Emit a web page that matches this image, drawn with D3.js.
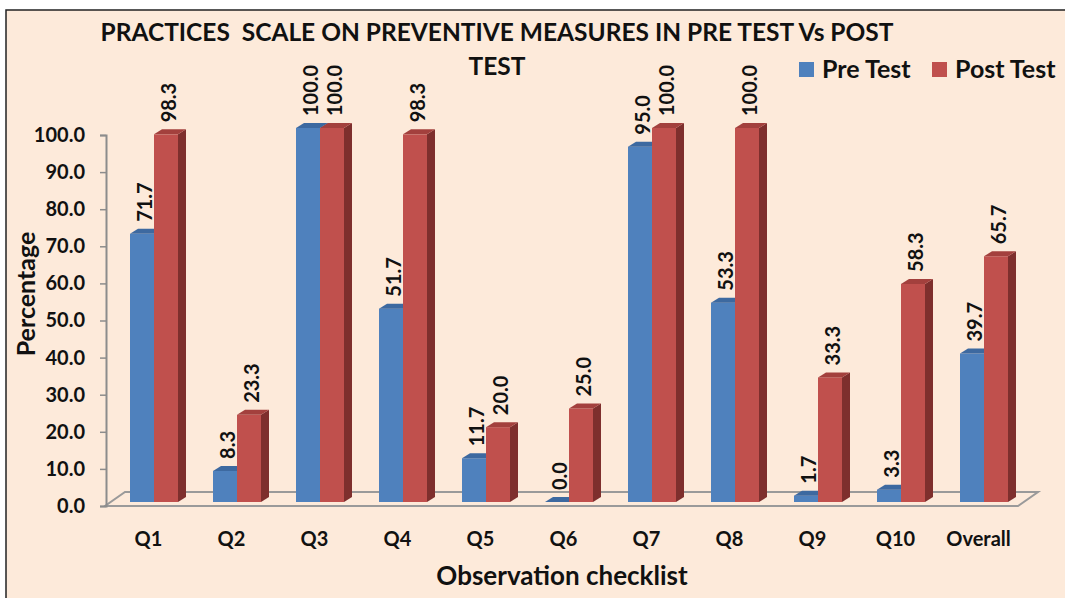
<!DOCTYPE html>
<html lang="en">
<head>
    <meta charset="UTF-8">
    <title>Practices Scale on Preventive Measures</title>
    <script src="https://d3js.org/d3.v7.min.js"></script>
    <style>
        body { margin: 0; background: #fff; }
        text { font-family: Lato, "Open Sans", sans-serif; font-weight: bold; fill: #111; }
    </style>
</head>
<body>
    <div id="chart"></div>
    <script>
        const categories = ["Q1", "Q2", "Q3", "Q4", "Q5", "Q6", "Q7", "Q8", "Q9", "Q10", "Overall"];
        const preTest = [71.7, 8.3, 100.0, 51.7, 11.7, 0.0, 95.0, 53.3, 1.7, 3.3, 39.7];
        const postTest = [98.3, 23.3, 100.0, 98.3, 20.0, 25.0, 100.0, 100.0, 33.3, 58.3, 65.7];
        const yTicks = [0, 10, 20, 30, 40, 50, 60, 70, 80, 90, 100];
        const seriesNames = ["Pre Test", "Post Test"];

        const W = 1065, H = 598;
        const svg = d3.select("#chart").append("svg")
            .attr("width", W).attr("height", H);

        // chart area background + border
        svg.append("rect").attr("x", 6).attr("y", 10).attr("width", W).attr("height", H)
            .attr("fill", "#fdeada").attr("stroke", "#222").attr("stroke-width", 1.5);

        const x = d3.scaleBand().domain(categories).range([105, 1018]);
        const y = d3.scaleLinear().domain([0, 100]).range([506, 135]);
        const yBar = d3.scaleLinear().domain([0, 100]).range([502, 128]);

        const depth = { dx: 20, dy: -14 };   // floor depth
        const bd = { dx: 8, dy: -5 };        // bar depth
        const barW = 24;

        // floor
        const f0 = x.range()[0], f1 = x.range()[1], fy = y(0);
        svg.append("path")
            .attr("d", `M${f0},${fy} L${f1},${fy} L${f1 + depth.dx},${fy + depth.dy} L${f0 + depth.dx},${fy + depth.dy} Z`)
            .attr("fill", "none").attr("stroke", "#9a9a9a").attr("stroke-width", 2);

        // y axis
        const yAxis = svg.append("g")
            .attr("transform", "translate(106,0)")
            .call(d3.axisLeft(y).tickValues(yTicks).tickFormat(d3.format(".1f")).tickSize(6).tickPadding(15));
        yAxis.select(".domain").attr("stroke", "#8c8c8c").attr("stroke-width", 2);
        yAxis.selectAll(".tick line").attr("stroke", "#8c8c8c").attr("stroke-width", 1.5);
        yAxis.selectAll(".tick text").attr("font-size", 20).attr("font-family", "Lato").attr("font-weight", "bold").attr("fill", "#111");

        const colors = [
            { front: "#4f81bd", top: "#3d69a0", side: "#2f5585" },
            { front: "#c0504d", top: "#a3403d", side: "#7e2f2d" }
        ];

        const series = [preTest, postTest];
        categories.forEach((c, i) => {
            series.forEach((vals, s) => {
                const v = vals[i];
                const bx = x(c) + 25 + s * barW;
                const by = yBar(v);
                const base = yBar(0);
                const col = colors[s];
                const g = svg.append("g");
                // side
                g.append("path")
                    .attr("d", `M${bx + barW},${by} L${bx + barW + bd.dx},${by + bd.dy} L${bx + barW + bd.dx},${base + bd.dy} L${bx + barW},${base} Z`)
                    .attr("fill", col.side);
                // front
                g.append("rect").attr("x", bx).attr("y", by).attr("width", barW).attr("height", base - by)
                    .attr("fill", col.front);
                // top
                g.append("path")
                    .attr("d", `M${bx},${by} L${bx + barW},${by} L${bx + barW + bd.dx},${by + bd.dy} L${bx + bd.dx},${by + bd.dy} Z`)
                    .attr("fill", col.top);
                // label
                const lx = bx + barW / 2 + 3, ly = by - 12;
                svg.append("text")
                    .attr("transform", `translate(${lx},${ly}) rotate(-90)`)
                    .attr("dy", "0.36em")
                    .attr("font-size", 20)
                    .text(d3.format(".1f")(v));
            });
        });

        // x category labels
        svg.append("g").selectAll("text").data(categories).join("text")
            .attr("x", d => x(d) + x.bandwidth() / 2 + 2)
            .attr("y", 546)
            .attr("text-anchor", "middle")
            .attr("font-size", 20)
            .text(d => d);

        // axis titles
        svg.append("text").attr("x", 562).attr("y", 585).attr("text-anchor", "middle")
            .attr("font-size", 26).text("Observation checklist");
        svg.append("text").attr("transform", "translate(26,294) rotate(-90)")
            .attr("text-anchor", "middle").attr("dy", "0.36em")
            .attr("font-size", 25).text("Percentage");

        // title
        svg.append("text").attr("x", 497).attr("y", 41).attr("text-anchor", "middle")
            .attr("font-size", 24.5).attr("xml:space", "preserve")
            .text("PRACTICES  SCALE ON PREVENTIVE MEASURES IN PRE TEST Vs POST");
        svg.append("text").attr("x", 497).attr("y", 75).attr("text-anchor", "middle")
            .attr("font-size", 24.5).text("TEST");

        // legend
        const legendX = [799, 932];
        seriesNames.forEach((n, s) => {
            svg.append("rect").attr("x", legendX[s]).attr("y", 62).attr("width", 15).attr("height", 15)
                .attr("fill", colors[s].front);
            svg.append("text").attr("x", legendX[s] + 23).attr("y", 78)
                .attr("font-size", 25).text(n);
        });
    </script>
</body>
</html>
